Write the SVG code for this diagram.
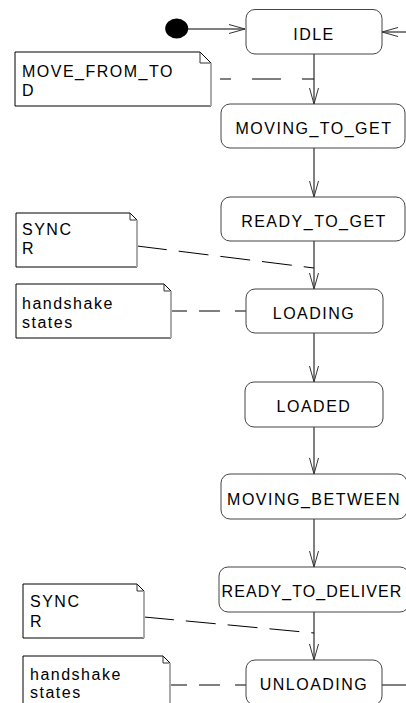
<svg xmlns="http://www.w3.org/2000/svg" width="406" height="703" viewBox="0 0 406 703">
<defs>
<style>
.st{fill:#fff;stroke:#444;stroke-width:1}
.lbl{font-family:"Liberation Sans",Arial,sans-serif;font-size:16px;letter-spacing:1.5px;fill:#000;text-anchor:middle}
.nt{font-family:"Liberation Sans",Arial,sans-serif;font-size:16px;letter-spacing:1.5px;fill:#000}
.nb{fill:#fff;stroke:#000;stroke-width:1}
.ne{fill:none;stroke:#aaa;stroke-width:2}
.nf{fill:none;stroke:#333;stroke-width:1}
.c{fill:none;stroke:#000;stroke-width:1}
.d{fill:none;stroke:#000;stroke-width:1;stroke-dasharray:30 12}
.dh{fill:none;stroke:#000;stroke-width:1;stroke-dasharray:16 12 21 15 12}
</style>
<marker id="arr" markerUnits="userSpaceOnUse" markerWidth="20" markerHeight="12" refX="16" refY="5" orient="auto" viewBox="0 0 20 12">
<path d="M0,0.5 L16,5 L0,9.5" fill="none" stroke="#333" stroke-width="1"/>
</marker>
</defs>

<g id="connectors">
<line class="c" x1="188" y1="29" x2="245" y2="29" marker-end="url(#arr)"/>
<line class="c" x1="406" y1="32" x2="382" y2="32" marker-end="url(#arr)"/>
<line class="c" x1="314" y1="54" x2="314" y2="104" marker-end="url(#arr)"/>
<line class="c" x1="314" y1="148" x2="314" y2="197" marker-end="url(#arr)"/>
<line class="c" x1="314" y1="241" x2="314" y2="289" marker-end="url(#arr)"/>
<line class="c" x1="314" y1="333" x2="314" y2="382" marker-end="url(#arr)"/>
<line class="c" x1="314" y1="427" x2="314" y2="474" marker-end="url(#arr)"/>
<line class="c" x1="314" y1="519" x2="314" y2="567" marker-end="url(#arr)"/>
<line class="c" x1="314" y1="612" x2="314" y2="660" marker-end="url(#arr)"/>
<line class="c" x1="382" y1="685" x2="406" y2="685"/>
<path class="c" d="M220,79 H231 M252,79 H281 M302,79 H314"/>
<line class="d" x1="137" y1="246" x2="314" y2="268"/>
<line class="dh" x1="171" y1="311" x2="246" y2="311"/>
<line class="d" x1="144" y1="617" x2="314" y2="633"/>
<line class="dh" x1="171" y1="685" x2="246" y2="685"/>
</g>

<g id="initial">
<ellipse cx="176.7" cy="28.5" rx="11.5" ry="10" fill="#000"/>
</g>

<g id="idle">
<rect class="st" x="246" y="9.5" width="136" height="44.5" rx="9"/>
<text class="lbl" x="314" y="39.5">IDLE</text>
</g>
<g id="moving_to_get">
<rect class="st" x="221" y="104" width="184" height="44" rx="9"/>
<text class="lbl" x="314" y="134">MOVING_TO_GET</text>
</g>
<g id="ready_to_get">
<rect class="st" x="221" y="197" width="184" height="44" rx="9"/>
<text class="lbl" x="314" y="227">READY_TO_GET</text>
</g>
<g id="loading">
<rect class="st" x="246" y="289" width="137" height="44" rx="9"/>
<text class="lbl" x="314" y="319">LOADING</text>
</g>
<g id="loaded">
<rect class="st" x="245" y="382" width="138" height="45" rx="9"/>
<text class="lbl" x="314" y="412">LOADED</text>
</g>
<g id="moving_between">
<rect class="st" x="221" y="474" width="186" height="45" rx="9"/>
<text class="lbl" x="314" y="505">MOVING_BETWEEN</text>
</g>
<g id="ready_to_deliver">
<rect class="st" x="219" y="567" width="190" height="45" rx="9"/>
<text class="lbl" x="312" y="597" style="letter-spacing:1.1px">READY_TO_DELIVER</text>
</g>
<g id="unloading">
<rect class="st" x="246" y="660" width="136" height="45" rx="9"/>
<text class="lbl" x="314" y="690">UNLOADING</text>
</g>

<g id="note_move">
<path class="nb" d="M211,106 H15 V52 H200 L211,63"/>
<path class="nf" d="M200,52 V63 H211"/>
<line class="ne" x1="211" y1="63" x2="211" y2="106"/>
<text class="nt" x="22" y="77">MOVE_FROM_TO</text>
<text class="nt" x="22" y="96">D</text>
</g>
<g id="note_sync1">
<path class="nb" d="M137,267 H16 V213 H130 L137,220"/>
<path class="nf" d="M130,213 V220 H137"/>
<line class="ne" x1="137" y1="220" x2="137" y2="267"/>
<text class="nt" x="22" y="235">SYNC</text>
<text class="nt" x="22" y="254">R</text>
</g>
<g id="note_hs1">
<path class="nb" d="M171,338 H16 V284 H164 L171,291"/>
<path class="nf" d="M164,284 V291 H171"/>
<line class="ne" x1="171" y1="291" x2="171" y2="338"/>
<text class="nt" x="22" y="309">handshake</text>
<text class="nt" x="22" y="328">states</text>
</g>
<g id="note_sync2">
<path class="nb" d="M144,638 H23 V584 H137 L144,591"/>
<path class="nf" d="M137,584 V591 H144"/>
<line class="ne" x1="144" y1="591" x2="144" y2="638"/>
<text class="nt" x="30" y="607">SYNC</text>
<text class="nt" x="30" y="627">R</text>
</g>
<g id="note_hs2">
<path class="nb" d="M170,710 H23 V656 H163 L170,663"/>
<path class="nf" d="M163,656 V663 H170"/>
<line class="ne" x1="170" y1="663" x2="170" y2="710"/>
<text class="nt" x="30" y="680">handshake</text>
<text class="nt" x="30" y="698">states</text>
</g>
</svg>
